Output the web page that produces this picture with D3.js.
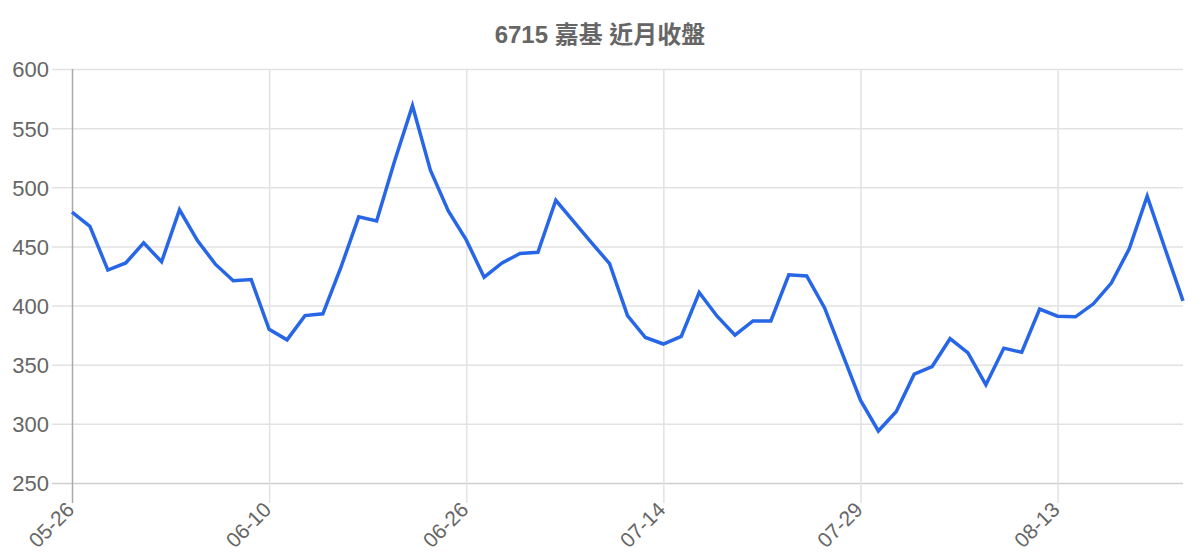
<!DOCTYPE html>
<html>
<head>
<meta charset="utf-8">
<script src="https://cdn.jsdelivr.net/npm/d3@7"></script>
<style>
  body { margin: 0; background: #fff; }
  svg { display: block; font-family: "Liberation Sans", Arial, "Noto Sans CJK TC", sans-serif; }
</style>
</head>
<body>
<div id="chart"></div>
<script>
// closing prices, one per trading day
var closes = [479, 467, 430, 436, 453, 437, 481, 455, 435, 421, 422,
  380, 371, 391.5, 393, 432, 475, 471.5, 522, 569, 514.5, 480,
  455.5, 424, 436, 444, 445, 489, 471, 453, 435.5, 391.5, 373,
  367.5, 374, 411, 391, 375, 387, 387, 426, 425, 398, 359,
  320, 294, 310.5, 342, 348.5, 372, 360, 333, 364, 360.5, 397,
  391, 390.5, 401.5, 419, 448, 492.5, 448, 404];

// x tick labels and the trading-day index they sit on
var tickLabels = ["05-26", "06-10", "06-26", "07-14", "07-29", "08-13"];
var tickIndex = [0, 11, 22, 33, 44, 55];

var yTicks = [250, 300, 350, 400, 450, 500, 550, 600];

var title = "6715 嘉基 近月收盤";

var width = 1200, height = 560;
var plotLeft = 72, plotRight = 1183, plotTop = 69, plotBottom = 483;

var svg = d3.select("#chart").append("svg")
  .attr("width", width)
  .attr("height", height);

var x = d3.scaleLinear()
  .domain([0, closes.length - 1])
  .range([plotLeft, plotRight]);

var y = d3.scaleLinear()
  .domain([250, 600])
  .range([plotBottom, plotTop]);

// horizontal grid + y labels
var yAxis = d3.axisLeft(y)
  .tickValues(yTicks)
  .tickSize(-(plotRight - plotLeft))
  .tickFormat(d3.format("d"));

var gy = svg.append("g")
  .attr("transform", "translate(" + plotLeft + ",0)")
  .call(yAxis);
gy.select(".domain").remove();
gy.selectAll(".tick line")
  .attr("x1", -20)
  .attr("stroke", function(d) { return d == 250 ? "#cfcfcf" : "#e2e2e2"; })
  .attr("stroke-width", 1.5);
gy.selectAll(".tick text")
  .attr("x", -23)
  .attr("dy", "0.36em")
  .style("font-size", "22px")
  .attr("fill", "#666");

// vertical grid + x labels
var xAxis = d3.axisBottom(x)
  .tickValues(tickIndex)
  .tickSize(-(plotBottom - plotTop))
  .tickFormat(function(d, i) { return tickLabels[i]; });

var gx = svg.append("g")
  .attr("transform", "translate(0," + plotBottom + ")")
  .call(xAxis);
gx.select(".domain").remove();
gx.selectAll(".tick line")
  .attr("y2", 20)
  .attr("y1", -(plotBottom - plotTop))
  .attr("stroke", function(d) { return d == 0 ? "#aaa" : "#e2e2e2"; })
  .attr("stroke-width", 1.5);
gx.selectAll(".tick text")
  .attr("y", 0)
  .attr("dy", 0)
  .attr("text-anchor", "end")
  .attr("transform", "translate(3,28) rotate(-45)")
  .style("font-size", "21px")
  .attr("fill", "#666");

// price line
var line = d3.line()
  .x(function(d, i) { return x(i); })
  .y(function(d) { return y(d); });

svg.append("path")
  .datum(closes)
  .attr("d", line)
  .attr("fill", "none")
  .attr("stroke", "#2766e6")
  .attr("stroke-width", 3.5)
  .attr("stroke-linejoin", "miter");

svg.append("text")
  .attr("x", 600)
  .attr("y", 43)
  .attr("text-anchor", "middle")
  .style("font-size", "24px")
  .style("font-weight", "bold")
  .attr("fill", "#666")
  .text(title);
</script>
</body>
</html>
